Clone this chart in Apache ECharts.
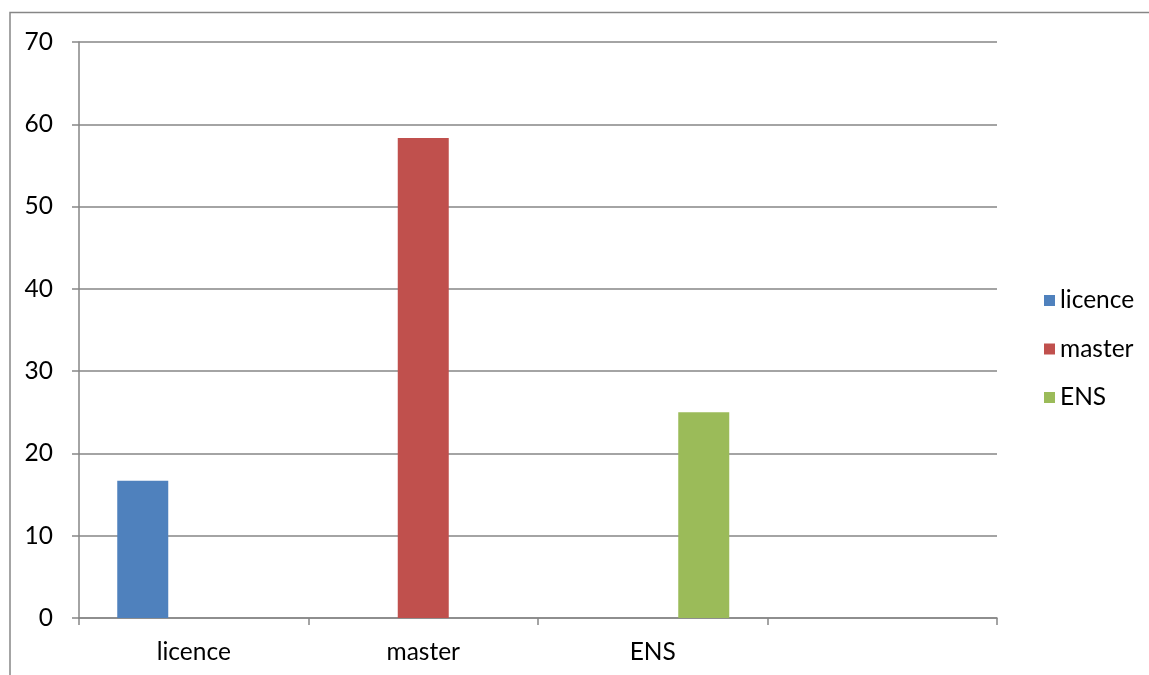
<!DOCTYPE html>
<html>
<head>
<meta charset="utf-8">
<script src="https://cdn.jsdelivr.net/npm/echarts@6/dist/echarts.min.js"></script>
<style>html,body{margin:0;padding:0;background:#fff}#c{width:1149px;height:675px}</style>
</head>
<body>
<div id="c"></div>
<script>
const categories = ['licence', 'master', 'ENS', ''];
const seriesNames = ['licence', 'master', 'ENS'];
const licenceValues = [16.67, '-', '-', '-'];
const masterValues = ['-', 58.33, '-', '-'];
const ensValues = ['-', '-', 25, '-'];
const yTicks = [0, 10, 20, 30, 40, 50, 60, 70];
const colors = ['#4f81bd', '#c0504d', '#9bbb59'];

const font = 'Lato, "Open Sans", sans-serif';
const axisGray = '#868686';
const chart = echarts.init(document.getElementById('c'), null, {renderer: 'canvas'});
const valuesList = [licenceValues, masterValues, ensValues];
chart.setOption({
  animation: false,
  color: colors,
  graphic: [{
    type: 'rect', x: 0, y: 0, silent: true,
    shape: {x: 10, y: 12.5, width: 1160, height: 700},
    style: {fill: 'none', stroke: axisGray, lineWidth: 1.5}
  }],
  grid: {left: 79, right: 152, top: 42, bottom: 57},
  legend: {
    orient: 'vertical', left: 1039, top: 283,
    itemWidth: 11, itemHeight: 11, itemGap: 23.5,
    icon: 'rect',
    data: seriesNames,
    textStyle: {fontFamily: font, fontSize: 24.5, color: '#000', padding: [0, 0, 0, 0]}
  },
  xAxis: {
    type: 'category', data: categories,
    axisLine: {lineStyle: {color: axisGray, width: 1.5}},
    axisTick: {show: true, length: 7, lineStyle: {color: axisGray, width: 1.5}},
    axisLabel: {fontFamily: font, fontSize: 24.5, color: '#000', margin: 22},
    splitLine: {show: false}
  },
  yAxis: {
    type: 'value', min: yTicks[0], max: yTicks[yTicks.length - 1], interval: 10,
    axisLine: {show: true, lineStyle: {color: axisGray, width: 1.5}},
    axisTick: {show: true, length: 7, lineStyle: {color: axisGray, width: 1.5}},
    axisLabel: {fontFamily: font, fontSize: 24.5, color: '#000', margin: 26},
    splitLine: {lineStyle: {color: axisGray, width: 1.5}}
  },
  series: seriesNames.map((n, i) => ({
    name: n, type: 'bar', data: valuesList[i],
    barWidth: 51, barGap: '0%'
  }))
});
</script>
</body>
</html>
